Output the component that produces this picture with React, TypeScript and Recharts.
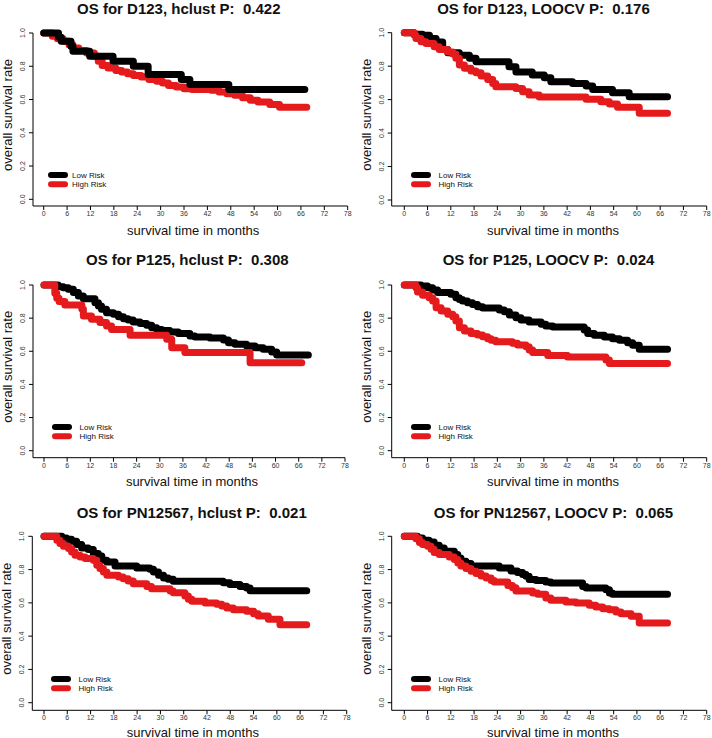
import React from "react";
import { LineChart, Line, XAxis, YAxis, Legend, Label } from "recharts";

const FONT = "'Liberation Sans', Arial, Helvetica, sans-serif";
const LOW_COLOR = "#000000";
const HIGH_COLOR = "#e41a1c";
const W = 356;
const H = 246;

const monthTicks = [0, 6, 12, 18, 24, 30, 36, 42, 48, 54, 60, 66, 72, 78];
const rateTicks = [0, 0.2, 0.4, 0.6, 0.8, 1.0];
const seriesNames = ["Low Risk", "High Risk"];

// D123, hclust
const d123HcLowT = [0, 3.8, 4.5, 7, 7.5, 11.8, 17.8, 23, 26.8, 35.3, 37.5, 47.5, 67];
const d123HcLowS = [1, 0.975, 0.95, 0.92, 0.89, 0.86, 0.83, 0.8, 0.75, 0.72, 0.69, 0.66, 0.66];
const d123HcHighT = [0, 2.2, 3.5, 5, 6.5, 7.5, 9, 11, 13, 14, 15, 16.5, 18.5, 20, 21.5, 23, 25, 27, 29, 30.5, 32, 34, 36, 38, 43, 45, 47, 49, 51, 53, 55, 58, 60.5, 67.5];
const d123HcHighS = [1, 0.98, 0.965, 0.95, 0.93, 0.91, 0.895, 0.88, 0.86, 0.83, 0.805, 0.79, 0.775, 0.765, 0.755, 0.745, 0.735, 0.72, 0.71, 0.7, 0.685, 0.675, 0.665, 0.66, 0.655, 0.645, 0.635, 0.625, 0.61, 0.595, 0.585, 0.57, 0.553, 0.553];

// D123, LOOCV
const d123LoLowT = [0, 2.5, 4.7, 6.5, 8.2, 9.9, 11.2, 14.2, 16.8, 18.5, 27, 28.8, 33, 36.1, 37.8, 43.4, 46.9, 48.6, 53.7, 58, 67.9];
const d123LoLowS = [1, 0.99, 0.985, 0.965, 0.945, 0.9, 0.88, 0.865, 0.847, 0.827, 0.797, 0.765, 0.747, 0.73, 0.707, 0.697, 0.681, 0.661, 0.641, 0.617, 0.617];
const d123LoHighT = [0, 2.6, 3, 4.3, 5.6, 7.7, 9, 11.2, 12.5, 13.3, 14.2, 15.5, 17.2, 18.5, 19.8, 21.5, 22.8, 23.6, 28.8, 30.5, 32.2, 34.8, 46.9, 50.7, 52.9, 55, 60.6, 67.9];
const d123LoHighS = [1, 0.985, 0.966, 0.946, 0.936, 0.916, 0.9, 0.884, 0.873, 0.847, 0.807, 0.787, 0.771, 0.761, 0.741, 0.721, 0.697, 0.677, 0.667, 0.647, 0.627, 0.615, 0.602, 0.588, 0.574, 0.554, 0.518, 0.518];

// P125, hclust
const p125HcLowT = [0, 3.7, 5, 6.3, 7.6, 8.9, 10.2, 13.2, 14.1, 14.9, 16.2, 18, 19.3, 20.6, 21.8, 23.1, 24.9, 26.6, 27.9, 29.2, 30.5, 32.6, 34.8, 37.8, 39.1, 43, 46.5, 47.8, 49.5, 52.5, 54.7, 56.8, 59, 60.3, 68.5];
const p125HcLowS = [1, 0.99, 0.984, 0.974, 0.954, 0.934, 0.917, 0.893, 0.873, 0.853, 0.833, 0.823, 0.809, 0.797, 0.789, 0.777, 0.767, 0.757, 0.742, 0.732, 0.726, 0.716, 0.708, 0.692, 0.686, 0.68, 0.668, 0.652, 0.642, 0.632, 0.622, 0.612, 0.596, 0.577, 0.577];
const p125HcHighT = [0, 2.8, 3.3, 3.9, 5.4, 9.8, 10.2, 12.3, 14.5, 16.2, 17.5, 22.3, 31.8, 33.1, 36.5, 53.4, 66.8];
const p125HcHighS = [1, 0.95, 0.92, 0.9, 0.88, 0.855, 0.813, 0.793, 0.773, 0.752, 0.732, 0.696, 0.672, 0.622, 0.592, 0.531, 0.531];

// P125, LOOCV
const p125LoLowT = [0, 4.3, 6, 7.3, 8.6, 12, 13.3, 14.2, 15, 16.3, 17.6, 18.9, 20.2, 24.5, 25.8, 27.1, 28.8, 30.1, 32.2, 35.3, 36.5, 38.3, 46.4, 47.3, 49, 51.6, 53.7, 55.5, 57.6, 58.9, 60.6, 67.9];
const p125LoLowS = [1, 0.994, 0.984, 0.97, 0.954, 0.944, 0.923, 0.913, 0.903, 0.893, 0.883, 0.869, 0.861, 0.849, 0.839, 0.819, 0.803, 0.789, 0.777, 0.763, 0.753, 0.746, 0.728, 0.708, 0.696, 0.686, 0.676, 0.666, 0.652, 0.636, 0.612, 0.612];
const p125LoHighT = [0, 3, 3.4, 4.7, 6.4, 7.3, 8.2, 9.5, 11.2, 12.5, 13.3, 14.2, 15.5, 17.2, 18.9, 20.2, 21.5, 22.4, 23.6, 27.9, 29.2, 31.4, 32.2, 33.1, 37, 42.1, 52, 52.9, 67.9];
const p125LoHighS = [1, 0.984, 0.958, 0.938, 0.923, 0.903, 0.863, 0.843, 0.823, 0.809, 0.783, 0.742, 0.722, 0.708, 0.698, 0.688, 0.676, 0.666, 0.658, 0.648, 0.638, 0.628, 0.608, 0.592, 0.575, 0.565, 0.547, 0.527, 0.527];

// PN12567, hclust
const pnHcLowT = [0, 4.6, 5.8, 7.1, 8.4, 9.7, 11.4, 12.7, 14, 14.9, 16.2, 18.3, 23.9, 27.3, 28.2, 29.5, 30.8, 32, 33.3, 46.2, 47.9, 50.5, 52.2, 53.1, 67.7];
const pnHcLowS = [1, 0.99, 0.982, 0.97, 0.95, 0.93, 0.92, 0.896, 0.882, 0.856, 0.846, 0.822, 0.81, 0.802, 0.786, 0.766, 0.75, 0.742, 0.73, 0.721, 0.711, 0.699, 0.69, 0.673, 0.673];
const pnHcHighT = [0, 3.3, 4.1, 5, 6.3, 7.1, 8, 9.3, 10.6, 12.7, 13.6, 14.4, 15.3, 16.2, 19.2, 20.4, 21.7, 23, 26.5, 27.7, 32.5, 33.3, 36.3, 37.2, 38.1, 41.5, 44.5, 45.8, 47.1, 48.8, 52.2, 54, 55.2, 57.8, 60.8, 67.7];
const pnHcHighS = [1, 0.976, 0.956, 0.94, 0.926, 0.906, 0.886, 0.876, 0.866, 0.856, 0.826, 0.806, 0.786, 0.766, 0.756, 0.745, 0.731, 0.715, 0.699, 0.685, 0.671, 0.661, 0.641, 0.621, 0.609, 0.599, 0.591, 0.581, 0.569, 0.559, 0.549, 0.535, 0.521, 0.501, 0.469, 0.469];

// PN12567, LOOCV
const pnLoLowT = [0, 3.4, 4.7, 6.4, 7.7, 9, 10.3, 12.9, 13.8, 14.6, 15.9, 17.2, 24.5, 27.5, 29.2, 30.5, 31.4, 32.2, 34, 36.5, 37.8, 46, 46.9, 52, 52.9, 53.7, 67.9];
const pnLoLowS = [1, 0.99, 0.976, 0.966, 0.946, 0.93, 0.91, 0.89, 0.87, 0.85, 0.836, 0.822, 0.81, 0.792, 0.782, 0.77, 0.76, 0.741, 0.735, 0.725, 0.719, 0.699, 0.689, 0.679, 0.659, 0.651, 0.651];
const pnLoHighT = [0, 3, 3.9, 4.7, 6, 6.9, 7.7, 9, 11.6, 12.9, 13.8, 14.6, 15.9, 17.2, 18.5, 19.8, 21.1, 22.4, 23.2, 26.7, 27.9, 28.8, 33.1, 34.4, 36.5, 37.8, 41.7, 44.3, 47.7, 49.4, 51.2, 52.9, 54.6, 55.9, 58.5, 60.6, 67.9];
const pnLoHighS = [1, 0.986, 0.962, 0.95, 0.94, 0.922, 0.902, 0.89, 0.876, 0.86, 0.84, 0.822, 0.806, 0.79, 0.776, 0.762, 0.75, 0.735, 0.725, 0.705, 0.691, 0.671, 0.659, 0.651, 0.629, 0.615, 0.605, 0.599, 0.585, 0.575, 0.565, 0.559, 0.545, 0.535, 0.519, 0.479, 0.479];

const toPoints = (t: number[], s: number[]) => t.map((m, i) => ({ month: m, surv: s[i] }));

const panels = [
  { title: "OS for D123, hclust P:  0.422", left: 0, top: 0, axisX: 33, x0: 43.7, x78: 347.7, y1: 33, y0: 199.3, xAxisY: 206, titleX: 178.8, titleY: 13.8, legendX: 48, legendY: 175, textGap: 24, lowOnTop: true, low: toPoints(d123HcLowT, d123HcLowS), high: toPoints(d123HcHighT, d123HcHighS) },
  { title: "OS for D123, LOOCV P:  0.176", left: 356, top: 0, axisX: 35.7, x0: 48.3, x78: 350.7, y1: 32.7, y0: 200, xAxisY: 206, titleX: 187.5, titleY: 13.8, legendX: 55, legendY: 175, textGap: 27.5, lowOnTop: false, low: toPoints(d123LoLowT, d123LoLowS), high: toPoints(d123LoHighT, d123LoHighS) },
  { title: "OS for P125, hclust P:  0.308", left: 0, top: 246, axisX: 33, x0: 44, x78: 345, y1: 39, y0: 204.7, xAxisY: 211.7, titleX: 187.3, titleY: 19, legendX: 51.7, legendY: 181, textGap: 27.5, lowOnTop: false, low: toPoints(p125HcLowT, p125HcLowS), high: toPoints(p125HcHighT, p125HcHighS) },
  { title: "OS for P125, LOOCV P:  0.024", left: 356, top: 246, axisX: 35.7, x0: 48.3, x78: 350.7, y1: 39, y0: 204.7, xAxisY: 211.7, titleX: 192.5, titleY: 19, legendX: 55, legendY: 181, textGap: 27.5, lowOnTop: false, low: toPoints(p125LoLowT, p125LoLowS), high: toPoints(p125LoHighT, p125LoHighS) },
  { title: "OS for PN12567, hclust P:  0.021", left: 0, top: 492, axisX: 32.3, x0: 44, x78: 346.7, y1: 44.3, y0: 210.7, xAxisY: 218.3, titleX: 191.7, titleY: 26, legendX: 51, legendY: 186.7, textGap: 27.5, lowOnTop: false, low: toPoints(pnHcLowT, pnHcLowS), high: toPoints(pnHcHighT, pnHcHighS) },
  { title: "OS for PN12567, LOOCV P:  0.065", left: 356, top: 492, axisX: 35.7, x0: 48.3, x78: 350.7, y1: 44.3, y0: 210.7, xAxisY: 218.3, titleX: 197.5, titleY: 26, legendX: 55, legendY: 186.7, textGap: 27.5, lowOnTop: false, low: toPoints(pnLoLowT, pnLoLowS), high: toPoints(pnLoHighT, pnLoHighS) },
];

const RateTick = (props: any) => {
  const { x, y, payload } = props;
  return (
    <text x={x} y={y} transform={`rotate(-90 ${x} ${y})`} textAnchor="middle" fontSize={7} fill="#333" fontFamily={FONT}>
      {Number(payload.value).toFixed(1)}
    </text>
  );
};

const RiskLegend = (props: any) => {
  const items = [...(props.payload || [])].sort(
    (a: any, b: any) => seriesNames.indexOf(a.value) - seriesNames.indexOf(b.value)
  );
  return (
    <svg width={110} height={22} style={{ display: "block" }}>
      {items.map((e: any, i: number) => {
        const cy = 4 + i * 9.3;
        return (
          <g key={e.value}>
            <line x1={3} x2={17} y1={cy} y2={cy} stroke={e.color} strokeWidth={6} strokeLinecap="round" />
            <text x={props.textGap} y={cy + 2.9} fontSize={8} fill="#111" fontFamily={FONT}>{e.value}</text>
          </g>
        );
      })}
    </svg>
  );
};

const Panel = ({ p }: { p: any }) => {
  const lowLine = (
    <Line key="low" data={p.low} dataKey="surv" name={seriesNames[0]} type="stepAfter" stroke={LOW_COLOR} strokeWidth={7}
      strokeLinecap="round" strokeLinejoin="round" dot={false} activeDot={false} isAnimationActive={false} />
  );
  const highLine = (
    <Line key="high" data={p.high} dataKey="surv" name={seriesNames[1]} type="stepAfter" stroke={HIGH_COLOR} strokeWidth={7}
      strokeLinecap="round" strokeLinejoin="round" dot={false} activeDot={false} isAnimationActive={false} />
  );
  const midY = (p.y1 + p.xAxisY) / 2 - 4.5;
  const xLabelY = Math.min(p.xAxisY + 28.5, H - 1.5);
  return (
    <div style={{ position: "absolute", left: p.left, top: p.top, width: W, height: H }}>
      <LineChart width={W} height={H} margin={{ top: p.y1, right: W - p.x78, bottom: 0, left: 0 }}>
        <XAxis type="number" dataKey="month" domain={[0, 78]} ticks={monthTicks} interval={0}
          padding={{ left: p.x0 - p.axisX, right: 0 }} height={H - p.xAxisY}
          tickSize={4} tickMargin={1} tick={{ fontSize: 7, fill: "#333", fontFamily: FONT }}
          axisLine={{ stroke: "#000" }} tickLine={{ stroke: "#000" }}>
          <Label content={() => (
            <text x={(p.x0 + p.x78) / 2 - 2.5} y={xLabelY} textAnchor="middle" fontSize={13} fill="#111" fontFamily={FONT}>
              survival time in months
            </text>
          )} />
        </XAxis>
        <YAxis type="number" domain={[0, 1]} ticks={rateTicks} interval={0} width={p.axisX}
          padding={{ top: 0, bottom: p.xAxisY - p.y0 }}
          tickSize={4} tickMargin={4} tick={<RateTick />}
          axisLine={{ stroke: "#000" }} tickLine={{ stroke: "#000" }}>
          <Label content={() => (
            <text x={p.axisX - 21} y={midY} transform={`rotate(-90 ${p.axisX - 21} ${midY})`} textAnchor="middle" fontSize={13} fill="#111" fontFamily={FONT}>
              overall survival rate
            </text>
          )} />
        </YAxis>
        {p.lowOnTop ? [highLine, lowLine] : [lowLine, highLine]}
        <Legend layout="horizontal" verticalAlign="middle" align="center"
          wrapperStyle={{ left: p.legendX, top: p.legendY - 4, width: 110, height: 22 }}
          content={(props: any) => <RiskLegend {...props} textGap={p.textGap} />} />
      </LineChart>
      <div style={{ position: "absolute", left: p.titleX - 160, top: p.titleY - 11.7, width: 320, textAlign: "center",
        fontFamily: FONT, fontSize: 15, lineHeight: "13px", fontWeight: "bold", whiteSpace: "pre", color: "#111" }}>
        {p.title}
      </div>
    </div>
  );
};

export default function App() {
  return (
    <div style={{ position: "absolute", left: 0, top: 0, width: 712, height: 738, background: "#fff" }}>
      {panels.map((p) => (
        <Panel key={p.title} p={p} />
      ))}
    </div>
  );
}
